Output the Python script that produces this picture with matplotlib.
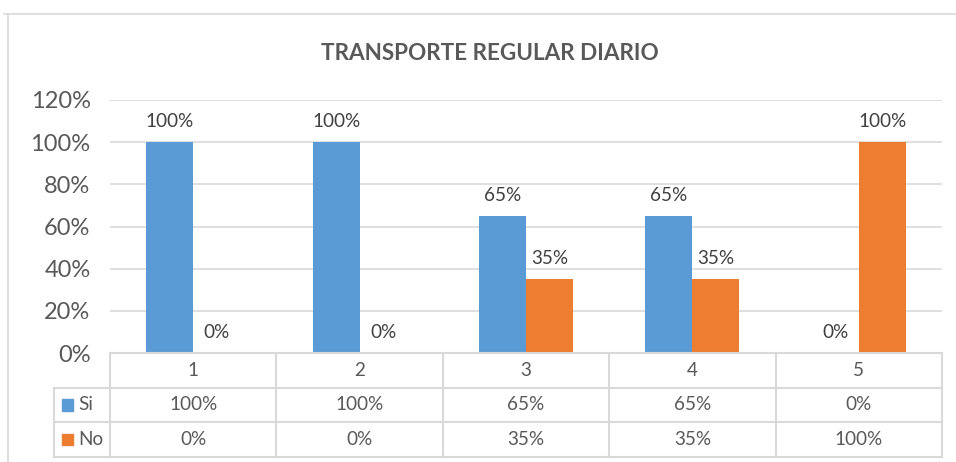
import matplotlib
matplotlib.use("Agg")
import matplotlib.pyplot as plt
from matplotlib.lines import Line2D
from matplotlib.patches import Rectangle

# data
categories = ["1", "2", "3", "4", "5"]
series_names = ["Si", "No"]
si_values = [100, 100, 65, 65, 0]
no_values = [0, 0, 35, 35, 100]
y_ticks = [0, 20, 40, 60, 80, 100, 120]
title = "TRANSPORTE REGULAR DIARIO"

BLUE = "#5B9BD5"
ORANGE = "#ED7D31"
GRID = "#D9D9D9"
TXT = "#595959"
LBL = "#404040"

plt.rcParams["font.family"] = ["Lato", "DejaVu Sans"]

W, H = 956, 462
fig = plt.figure(figsize=(W / 100, H / 100), dpi=100)


def fx(px):
    return px / W


def fy(py):
    return 1 - py / H


# chart border
fig.add_artist(Line2D([fx(8), fx(8)], [fy(14), fy(462)], color=GRID, lw=1.2))
fig.add_artist(Line2D([fx(4), fx(956)], [fy(14), fy(14)], color=GRID, lw=1.2))

fig.text(fx(490), fy(53), title, ha="center", va="center",
         fontsize=16.2, fontweight="bold", color=TXT)

ax = fig.add_axes([fx(110), fy(353), (942 - 110) / W, (353 - 100) / H])
x = list(range(len(categories)))
bw = 0.2825
colors = [BLUE, ORANGE]
for i, vals in enumerate([si_values, no_values]):
    xs = [xi + (i - 0.5) * bw for xi in x]
    ax.bar(xs, vals, width=bw, color=colors[i], zorder=3)
    for xx, v in zip(xs, vals):
        ax.annotate(f"{v}%", (xx, v), xytext=(0, 11), textcoords="offset points",
                    ha="center", va="baseline", fontsize=13.6, color=LBL)

ax.set_xlim(-0.5, len(categories) - 0.5)
ax.set_ylim(0, 120)
ax.set_yticks(y_ticks)
ax.set_yticklabels([f"{t}%" for t in y_ticks])
ax.tick_params(axis="y", length=0, pad=14, labelsize=17, labelcolor=TXT)
ax.set_xticks([])
for s in ax.spines.values():
    s.set_visible(False)
ax.grid(axis="y", color=GRID, lw=1.2, zorder=0)

# data table
leg_w = 56 / 166.4
tax = fig.add_axes([fx(54), fy(457), (942 - 54) / W, (457 - 353) / H])
x0 = -0.5 - leg_w
tax.set_xlim(x0, len(categories) - 0.5)
tax.set_ylim(3, 0)
tax.axis("off")
lk = dict(color=GRID, lw=1.5, clip_on=False)
tax.plot([-0.5, len(categories) - 0.5], [0, 0], **lk)
for r in [1, 2, 3]:
    tax.plot([x0, len(categories) - 0.5], [r, r], **lk)
for c in range(len(categories) + 1):
    tax.plot([c - 0.5, c - 0.5], [0, 3], **lk)
tax.plot([x0, x0], [1, 3], **lk)

for c, cat in enumerate(categories):
    tax.text(c, 0.5, cat, ha="center", va="center", fontsize=13.6, color=TXT)
for r, (name, vals, col) in enumerate(zip(series_names, [si_values, no_values], colors)):
    yy = r + 1.5
    tax.add_patch(Rectangle((x0 + 0.05, yy - 0.16), 0.066, 0.32, color=col, clip_on=False))
    tax.text(x0 + 0.145, yy, name, ha="left", va="center", fontsize=13.6, color=TXT)
    for c, v in enumerate(vals):
        tax.text(c, yy, f"{v}%", ha="center", va="center", fontsize=13.6, color=TXT)

fig.savefig("out.png", dpi=100)
